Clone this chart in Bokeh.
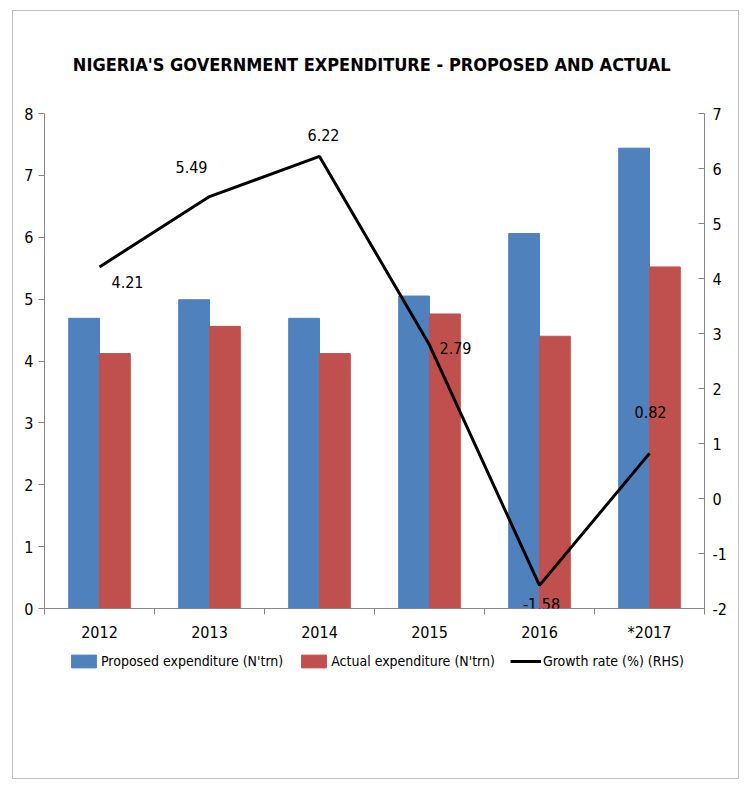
import numpy as np
from bokeh.plotting import figure
from bokeh.layouts import column
from bokeh.models import (ColumnDataSource, Range1d, LinearAxis, FixedTicker,
                          Legend, LegendItem, Label)
from bokeh.embed import file_html
from bokeh.resources import INLINE

# --- data -------------------------------------------------------------
years = ["2012", "2013", "2014", "2015", "2016", "*2017"]
proposed = [4.69, 4.99, 4.69, 5.05, 6.06, 7.44]     # N' trn
actual = [4.12, 4.56, 4.12, 4.76, 4.40, 5.52]       # N' trn
growth = [4.21, 5.49, 6.22, 2.79, -1.58, 0.82]      # %, right-hand scale
left_ticks = list(range(0, 9))
right_ticks = list(range(-2, 8))

FONT = "'DejaVu Sans Condensed', 'Liberation Sans', sans-serif"
BLUE = "#4F81BD"
RED = "#C0504D"
GREY = "#868686"

idx = np.arange(len(years))
src = ColumnDataSource(dict(i=idx, proposed=proposed, actual=actual, growth=growth,
                            glabel=[f"{g:.2f}" for g in growth]))
bw = 0.28

# --- main chart -------------------------------------------------------
p = figure(width=725, height=639, output_backend="svg", toolbar_location=None,
           x_range=Range1d(-0.5, len(years) - 0.5), y_range=Range1d(0, 8),
           min_border_left=31, min_border_right=34,
           min_border_top=102, min_border_bottom=42)
p.extra_y_ranges = {"growth": Range1d(-2, 7)}
p.outline_line_color = None
p.xgrid.visible = False
p.ygrid.visible = False

# grouped bars
p.vbar(x=idx - bw / 2, top=proposed, width=bw, color=BLUE)
p.vbar(x=idx + bw / 2, top=actual, width=bw, color=RED)

# growth line on the secondary axis
p.line("i", "growth", source=src, y_range_name="growth",
       line_color="black", line_width=3)

# value labels for the growth line
dx = [28, -18, 4, 26, 2, 1]
dy = [-15, 30, 21, -3, -19, 41]
for k in range(len(years)):
    p.add_layout(Label(x=idx[k], y=growth[k], y_range_name="growth",
                       text=src.data["glabel"][k], x_offset=dx[k], y_offset=dy[k],
                       text_align="center", text_baseline="middle",
                       text_font=FONT, text_font_size="16px", text_color="black"))

# axes
xa = p.xaxis[0]
xa.ticker = FixedTicker(ticks=list(idx),
                        minor_ticks=list(np.arange(-0.5, len(years), 1.0)))
xa.major_label_overrides = {int(k): y for k, y in zip(idx, years)}
xa.major_tick_out = 0
xa.major_tick_in = 0
xa.minor_tick_out = 6
xa.minor_tick_in = 0
xa.minor_tick_line_color = GREY
xa.axis_line_color = GREY
xa.major_label_standoff = 8

ya = p.yaxis[0]
ya.ticker = FixedTicker(ticks=left_ticks)
ya.major_tick_out = 6
ya.major_tick_in = 0
ya.minor_tick_line_color = None
ya.axis_line_color = GREY
ya.major_tick_line_color = GREY
ya.major_label_standoff = 5

yr = LinearAxis(y_range_name="growth", ticker=FixedTicker(ticks=right_ticks))
yr.major_label_overrides = {t: str(t) for t in right_ticks}
yr.major_tick_out = 0
yr.major_tick_in = 6
yr.minor_tick_line_color = None
yr.axis_line_color = GREY
yr.major_tick_line_color = GREY
yr.major_label_standoff = 8
p.add_layout(yr, "right")

for ax in (xa, ya, yr):
    ax.major_label_text_font = FONT
    ax.major_label_text_font_size = "16px"
    ax.major_label_text_color = "black"

# title
p.title.text = "NIGERIA'S GOVERNMENT  EXPENDITURE - PROPOSED AND ACTUAL"
p.title.align = "center"
p.title.text_font = FONT
p.title.text_font_style = "bold"
p.title.text_font_size = "18px"
p.title.text_color = "black"
p.title.standoff = 78

# --- legend strip -----------------------------------------------------
# the series are attached here (hidden) only so the legend can draw their keys
lg = figure(width=725, height=128, output_backend="svg", toolbar_location=None,
            x_range=Range1d(-0.5, len(years) - 0.5), y_range=Range1d(0, 8),
            min_border=0, outline_line_color=None)
lg.extra_y_ranges = {"growth": Range1d(-2, 7)}
lg.axis.visible = False
lg.grid.visible = False
kb = lg.vbar(x=idx - bw / 2, top=proposed, width=bw, color=BLUE, visible=False)
kr = lg.vbar(x=idx + bw / 2, top=actual, width=bw, color=RED, visible=False)
kl = lg.line("i", "growth", source=src, y_range_name="growth",
             line_color="black", line_width=3, visible=False)

legend = Legend(items=[
    LegendItem(label="Proposed expenditure (N'trn)", renderers=[kb]),
    LegendItem(label="Actual expenditure (N'trn)", renderers=[kr]),
    LegendItem(label="Growth rate (%) (RHS)", renderers=[kl]),
], orientation="horizontal", location=(24, 109),
    glyph_width=31, glyph_height=16, label_standoff=2, spacing=15,
    padding=0, margin=0, border_line_color=None, background_fill_alpha=0,
    inactive_fill_alpha=0,
    label_text_font=FONT, label_text_font_size="14px", label_height=16,
    label_text_color="black")
lg.add_layout(legend, "center")

layout = column(p, lg, spacing=0, margin=(10, 0, 0, 12),
                styles={"border": "1px solid #BFBFBF"})

open("out.html", "w").write(file_html(layout, INLINE))
